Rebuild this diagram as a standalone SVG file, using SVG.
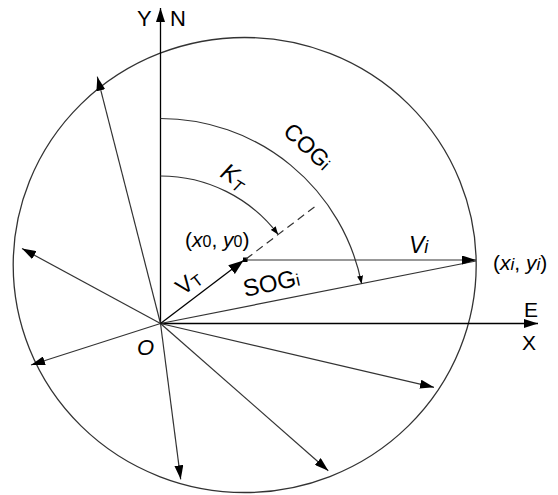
<svg xmlns="http://www.w3.org/2000/svg" width="558" height="495" viewBox="0 0 558 495">
<style>
.ax{stroke:#000;stroke-width:1.3;fill:none}
.sp{stroke:#333;stroke-width:1.2;fill:none}
.arc{stroke:#333;stroke-width:1.2;fill:none}
.t{font-family:"Liberation Sans",Arial,sans-serif;fill:#000}
.it{font-style:italic}
</style>
<defs>
<marker id="ah" markerUnits="userSpaceOnUse" markerWidth="14" markerHeight="9" viewBox="0 0 14 9" refX="14" refY="4.5" orient="auto"><path d="M0,0 L14,4.5 L0,9 z" fill="#000"/></marker>
<marker id="bah" markerUnits="userSpaceOnUse" markerWidth="15" markerHeight="11" viewBox="0 0 15 11" refX="15" refY="5.5" orient="auto"><path d="M0,0 L15,5.5 L0,11 z" fill="#000"/></marker>
<marker id="sah" markerUnits="userSpaceOnUse" markerWidth="8" markerHeight="6" viewBox="0 0 8 6" refX="8" refY="3" orient="auto"><path d="M0,0 L8,3 L0,6 z" fill="#000"/></marker>
</defs>
<rect width="558" height="495" fill="#fff"/>
<g id="circle"><ellipse cx="244.7" cy="265" rx="231.5" ry="227.5" fill="none" stroke="#333" stroke-width="1.3"/></g>
<g id="connectors">
<line class="ax" x1="160.5" y1="323.5" x2="160.5" y2="8" marker-end="url(#ah)"/>
<line class="ax" x1="160.5" y1="323.5" x2="538" y2="323.5" marker-end="url(#ah)"/>
<line class="sp" x1="160.5" y1="323.5" x2="97.3" y2="76.7" marker-end="url(#ah)"/>
<line class="sp" x1="160.5" y1="323.5" x2="22" y2="248.5" marker-end="url(#ah)"/>
<line class="sp" x1="160.5" y1="323.5" x2="31" y2="365" marker-end="url(#ah)"/>
<line class="sp" x1="160.5" y1="323.5" x2="180.7" y2="479.3" marker-end="url(#ah)"/>
<line class="sp" x1="160.5" y1="323.5" x2="328.3" y2="470.7" marker-end="url(#ah)"/>
<line class="sp" x1="160.5" y1="323.5" x2="434" y2="387.3" marker-end="url(#ah)"/>
<line class="sp" x1="160.5" y1="323.5" x2="476" y2="261"/>
<line class="sp" x1="245" y1="260" x2="476" y2="260" marker-end="url(#ah)"/>
<line class="ax" x1="160.5" y1="323.5" x2="243.5" y2="260.6" stroke-width="1.6" marker-end="url(#bah)"/>
<rect x="243" y="257.5" width="4.5" height="4.5" fill="#000"/>
<line x1="246" y1="259" x2="317" y2="205" stroke="#333" stroke-width="1.2" stroke-dasharray="8,5"/>
<path class="arc" d="M160.5,176 A147.5,147.5 0 0 1 278.1,234.4" marker-end="url(#sah)"/>
<path class="arc" d="M160.5,118.5 A205,205 0 0 1 361.6,283.7" marker-end="url(#sah)"/>
</g>
<g id="labels">
<text class="t" x="137" y="26" font-size="22">Y</text>
<text class="t" x="170" y="26" font-size="22">N</text>
<text class="t" x="524" y="317" font-size="21">E</text>
<text class="t" x="522" y="350" font-size="21">X</text>
<text class="t it" x="137" y="355" font-size="22">O</text>
<text class="t" x="185" y="247" font-size="21">(<tspan class="it">x</tspan><tspan font-size="16">0</tspan>, <tspan class="it">y</tspan><tspan font-size="16">0</tspan>)</text>
<text class="t" x="493" y="270" font-size="21">(<tspan class="it">x</tspan><tspan class="it" font-size="17">i</tspan>, <tspan class="it">y</tspan><tspan class="it" font-size="17">i</tspan>)</text>
<text class="t it" x="409" y="253" font-size="23">V<tspan font-size="18">i</tspan></text>
<text class="t" font-size="24" transform="translate(245,297) rotate(-12)">SOG<tspan font-size="17">i</tspan></text>
<text class="t" font-size="23" transform="translate(282,133) rotate(43)">COG<tspan font-size="17">i</tspan></text>
<text class="t it" font-size="24" transform="translate(219,176) rotate(32)">K<tspan font-size="16" dy="4">T</tspan></text>
<text class="t" font-size="23" transform="translate(183,296) rotate(-37)">V<tspan font-size="16" dy="2">T</tspan></text>
</g>
</svg>
